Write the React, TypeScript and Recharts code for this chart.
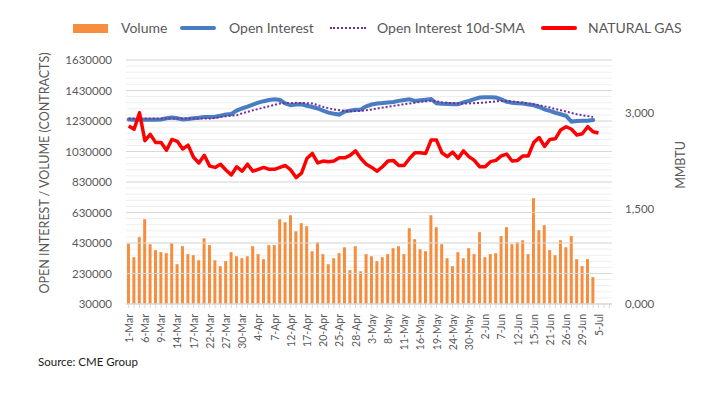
import { ComposedChart, Bar, Line, XAxis, YAxis, CartesianGrid, ReferenceLine } from 'recharts';

const categories = [
  '1-Mar', '2-Mar', '3-Mar', '6-Mar', '7-Mar', '8-Mar', '9-Mar', '10-Mar', '13-Mar', '14-Mar', '15-Mar', '16-Mar',
  '17-Mar', '20-Mar', '21-Mar', '22-Mar', '23-Mar', '24-Mar', '27-Mar', '28-Mar', '29-Mar', '30-Mar', '31-Mar',
  '3-Apr', '4-Apr', '5-Apr', '6-Apr', '7-Apr', '10-Apr', '11-Apr', '12-Apr', '13-Apr', '14-Apr', '17-Apr', '18-Apr',
  '19-Apr', '20-Apr', '21-Apr', '24-Apr', '25-Apr', '26-Apr', '27-Apr', '28-Apr',
  '1-May', '2-May', '3-May', '4-May', '5-May', '8-May', '9-May', '10-May', '11-May', '12-May', '15-May', '16-May',
  '17-May', '18-May', '19-May', '22-May', '23-May', '24-May', '25-May', '26-May', '30-May', '31-May',
  '1-Jun', '2-Jun', '5-Jun', '6-Jun', '7-Jun', '8-Jun', '9-Jun', '12-Jun', '13-Jun', '14-Jun', '15-Jun', '16-Jun',
  '20-Jun', '21-Jun', '22-Jun', '23-Jun', '26-Jun', '27-Jun', '28-Jun', '29-Jun', '30-Jun',
  '3-Jul', '5-Jul', '6-Jul', '7-Jul',
];

const volume = [
  426000, 337000, 468000, 586000, 422000, 383000, 370000, 363000, 429000, 291000, 409000, 357000,
  350000, 317000, 461000, 416000, 317000, 278000, 311000, 370000, 343000, 330000, 343000,
  409000, 357000, 324000, 416000, 416000, 586000, 566000, 612000, 507000, 560000, 540000, 376000,
  435000, 357000, 291000, 330000, 363000, 402000, 252000, 409000,
  245000, 357000, 343000, 311000, 337000, 357000, 396000, 409000, 357000, 527000, 455000, 389000,
  376000, 612000, 534000, 422000, 330000, 278000, 370000, 330000, 396000, 357000,
  501000, 337000, 357000, 363000, 475000, 534000, 422000, 435000, 448000, 357000, 724000, 514000,
  547000, 383000, 350000, 448000, 402000, 475000, 324000, 278000, 324000,
  206000,
];

const openInterest = [
  1240000, 1238000, 1238000, 1238000, 1238000, 1238000, 1240000, 1248000, 1253000, 1248000, 1240000, 1243000,
  1248000, 1252000, 1257000, 1256000, 1258000, 1265000, 1272000, 1276000, 1298000, 1312000, 1324000,
  1338000, 1350000, 1360000, 1368000, 1373000, 1368000, 1345000, 1333000, 1338000, 1340000, 1330000, 1322000,
  1312000, 1298000, 1285000, 1278000, 1272000, 1292000, 1298000, 1304000,
  1306000, 1326000, 1338000, 1345000, 1348000, 1352000, 1355000, 1362000, 1368000, 1373000, 1362000, 1366000,
  1370000, 1374000, 1346000, 1343000, 1342000, 1340000, 1340000, 1352000, 1362000, 1374000,
  1384000, 1386000, 1386000, 1384000, 1372000, 1356000, 1350000, 1346000, 1344000, 1338000, 1333000, 1322000,
  1306000, 1296000, 1284000, 1274000, 1264000, 1226000, 1230000, 1232000, 1231000,
  1236000,
];

const openInterestSma = [
  1246000, 1246000, 1246000, 1246000, 1246000, 1246000, 1246000, 1246000, 1246000, 1246000, 1246000, 1246000,
  1246000, 1246000, 1246000, 1246000, 1250000, 1257000, 1261000, 1265000, 1268000, 1280000, 1290000,
  1300000, 1309000, 1318000, 1327000, 1336000, 1345000, 1347000, 1348000, 1349000, 1348000, 1347000, 1345000,
  1334000, 1323000, 1314000, 1305000, 1301000, 1297000, 1294000, 1295000,
  1296000, 1300000, 1306000, 1312000, 1318000, 1323000, 1329000, 1334000, 1340000, 1345000, 1350000, 1355000,
  1359000, 1362000, 1358000, 1353000, 1349000, 1347000, 1346000, 1345000, 1345000, 1347000,
  1349000, 1351000, 1355000, 1359000, 1362000, 1360000, 1358000, 1355000, 1350000, 1345000, 1340000, 1334000,
  1326000, 1318000, 1309000, 1301000, 1292000, 1283000, 1274000, 1268000, 1262000,
  1257000,
];

const naturalGas = [
  2.8, 2.75, 3.01, 2.57, 2.67, 2.54, 2.54, 2.42, 2.59, 2.56, 2.44, 2.5,
  2.31, 2.22, 2.34, 2.17, 2.15, 2.2, 2.11, 2.03, 2.16, 2.09, 2.2,
  2.09, 2.12, 2.15, 2.12, 2.12, 2.15, 2.18, 2.11, 1.99, 2.06, 2.29, 2.37,
  2.22, 2.25, 2.24, 2.25, 2.3, 2.3, 2.34, 2.41,
  2.29, 2.2, 2.15, 2.09, 2.16, 2.25, 2.26, 2.18, 2.18, 2.29, 2.38, 2.38,
  2.37, 2.58, 2.58, 2.38, 2.32, 2.39, 2.29, 2.41, 2.32, 2.26,
  2.16, 2.16, 2.24, 2.26, 2.33, 2.36, 2.25, 2.26, 2.33, 2.33, 2.54, 2.62,
  2.48, 2.59, 2.6, 2.74, 2.79, 2.75, 2.66, 2.68, 2.79,
  2.71, 2.69,
];

const leftMajorTicks = [30000, 230000, 430000, 630000, 830000, 1030000, 1230000, 1430000, 1630000];
const leftMinorTicks = Array.from({ length: 41 }, (_, i) => 30000 + i * 40000);
const rightTicks = [0, 1.5, 3];

const data = categories.map((date, i) => ({
  date,
  volume: volume[i] ?? null,
  openInterest: openInterest[i] ?? null,
  openInterestSma: openInterestSma[i] ?? null,
  naturalGas: naturalGas[i] ?? null,
}));

const FONT = 'Lato, "Liberation Sans", sans-serif';
const TEXT = '#595959';

const DateTick = (props: any) => {
  const { x, y, payload, index } = props;
  if (index % 3 !== 0) return null;
  return (
    <text
      x={x + 4}
      y={y + 4}
      transform={`rotate(-90, ${x + 4}, ${y + 4})`}
      textAnchor="end"
      fill={TEXT}
      fontSize={10.5}
      fontFamily={FONT}
    >
      {payload.value}
    </text>
  );
};

const legendText: React.CSSProperties = {
  position: 'absolute',
  top: 19,
  fontSize: 14,
  color: TEXT,
  fontFamily: FONT,
  lineHeight: '18px',
};

export default function App() {
  return (
    <div style={{ position: 'fixed', left: 0, top: 0, width: 714, height: 396, background: '#fff' }}>
      <ComposedChart width={714} height={396} data={data} margin={{ top: 60, right: 0, bottom: 0, left: 0 }} barCategoryGap="18%">
        <CartesianGrid yAxisId="left" vertical={false} stroke="#eeeeee" />
        {leftMajorTicks.map(v => (
          <ReferenceLine key={v} yAxisId="left" y={v} stroke="#d9d9d9" />
        ))}
        <XAxis
          dataKey="date"
          interval={0}
          tick={<DateTick />}
          tickLine={{ stroke: '#d9d9d9' }}
          tickSize={4}
          axisLine={{ stroke: '#d9d9d9' }}
          height={92}
        />
        <YAxis
          yAxisId="left"
          orientation="left"
          width={126}
          domain={[30000, 1630000]}
          ticks={leftMinorTicks}
          interval={0}
          tickFormatter={(v: number) => (leftMajorTicks.includes(v) ? String(v) : '')}
          axisLine={false}
          tickLine={false}
          tickSize={0}
          tickMargin={14}
          tick={{ fill: TEXT, fontSize: 11.5, fontFamily: FONT }}
        />
        <YAxis
          yAxisId="right"
          orientation="right"
          width={102}
          domain={[0, 3.84]}
          ticks={rightTicks}
          interval={0}
          tickFormatter={(v: number) => v.toFixed(3).replace('.', ',')}
          axisLine={false}
          tickLine={false}
          tickSize={0}
          tickMargin={13}
          tick={{ fill: TEXT, fontSize: 11.5, fontFamily: FONT }}
        />
        <Bar yAxisId="left" dataKey="volume" fill="#F68E3E" isAnimationActive={false} />
        <Line
          yAxisId="left"
          type="linear"
          dataKey="openInterest"
          stroke="#4A7CC1"
          strokeWidth={4}
          strokeLinecap="round"
          dot={false}
          isAnimationActive={false}
        />
        <Line
          yAxisId="left"
          type="linear"
          dataKey="openInterestSma"
          stroke="#7030A0"
          strokeWidth={2}
          strokeDasharray="2 2"
          dot={false}
          isAnimationActive={false}
        />
        <Line
          yAxisId="right"
          type="linear"
          dataKey="naturalGas"
          stroke="#FF0000"
          strokeWidth={3.5}
          strokeLinejoin="round"
          dot={false}
          isAnimationActive={false}
        />
      </ComposedChart>

      <div style={{ position: 'absolute', left: 73, top: 24, width: 35, height: 9, background: '#F68E3E' }} />
      <div style={{ ...legendText, left: 121 }}>Volume</div>
      <div style={{ position: 'absolute', left: 180, top: 26, width: 36, height: 4, borderRadius: 2, background: '#4A7CC1' }} />
      <div style={{ ...legendText, left: 229 }}>Open Interest</div>
      <div style={{ position: 'absolute', left: 330, top: 27, width: 36, borderTop: '2px dotted #7030A0' }} />
      <div style={{ ...legendText, left: 377 }}>Open Interest 10d-SMA</div>
      <div style={{ position: 'absolute', left: 541, top: 26, width: 36, height: 4, borderRadius: 2, background: '#FF0000' }} />
      <div style={{ ...legendText, left: 588 }}>NATURAL GAS</div>

      <div
        style={{
          position: 'absolute',
          left: 44,
          top: 173,
          transform: 'translate(-50%, -50%) rotate(-90deg)',
          whiteSpace: 'nowrap',
          fontSize: 12.5,
          color: TEXT,
          fontFamily: FONT,
        }}
      >
        OPEN INTEREST / VOLUME (CONTRACTS)
      </div>
      <div
        style={{
          position: 'absolute',
          left: 680,
          top: 165,
          transform: 'translate(-50%, -50%) rotate(-90deg)',
          whiteSpace: 'nowrap',
          fontSize: 12.5,
          color: TEXT,
          fontFamily: FONT,
        }}
      >
        MMBTU
      </div>
      <div style={{ position: 'absolute', left: 38, top: 355, fontSize: 11.5, color: '#222', fontFamily: FONT }}>
        Source: CME Group
      </div>
    </div>
  );
}
